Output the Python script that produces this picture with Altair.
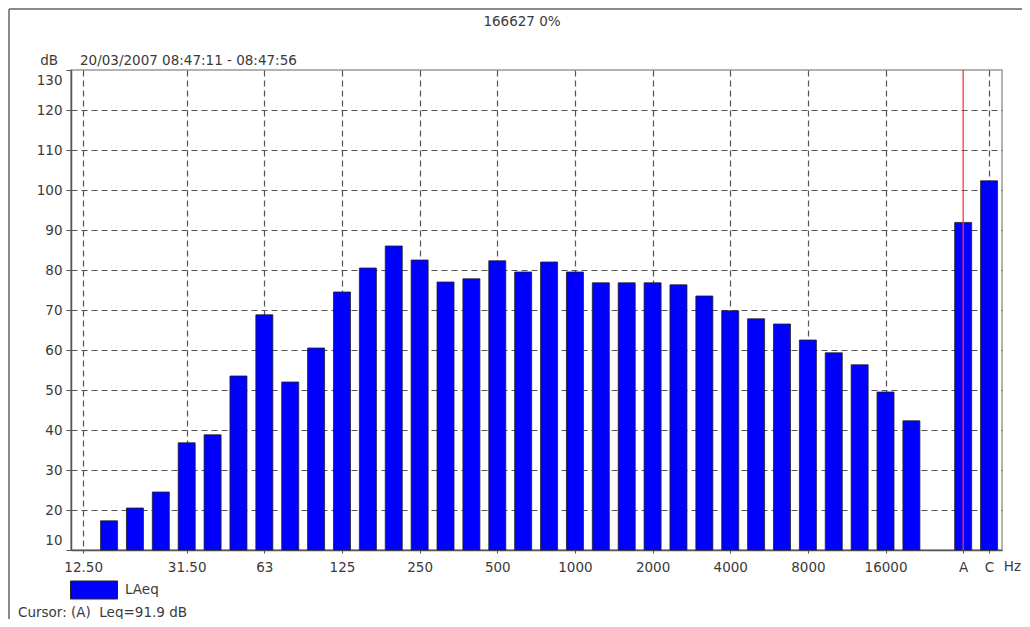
import altair as alt
import pandas as pd

# 1/3-octave bands (slot index 0 = 12.5 Hz, which has no bar), then A and C totals
bands = ["16", "20", "25", "31.5", "40", "50", "63", "80", "100", "125", "160", "200",
         "250", "315", "400", "500", "630", "800", "1000", "1250", "1600", "2000", "2500",
         "3150", "4000", "5000", "6300", "8000", "10000", "12500", "16000", "20000", "A", "C"]
levels = [17.3, 20.5, 24.5, 36.8, 38.8, 53.5, 68.8, 52.0, 60.5, 74.5, 80.5, 86.0,
          82.5, 77.0, 77.8, 82.3, 79.5, 82.0, 79.5, 76.8, 76.8, 76.8, 76.3,
          73.5, 69.8, 67.8, 66.5, 62.5, 59.3, 56.3, 49.5, 42.3, 91.9, 102.3]
slots = list(range(1, 33)) + [34, 35]

tick_slots = [0, 4, 7, 10, 13, 16, 19, 22, 25, 28, 31, 34, 35]
tick_labels = ["12.50", "31.50", "63", "125", "250", "500", "1000", "2000",
               "4000", "8000", "16000", "A", "C"]
y_ticks = list(range(10, 131, 10))

title_text = "166627 0%"
period_text = "20/03/2007 08:47:11 - 08:47:56"
cursor_text = "Cursor: (A)\u00a0 Leq=91.9 dB"
series_name = "LAeq"
cursor_slot = 34

FONT = "DejaVu Sans"
FS = 13.5
TXT = "#3a3a3a"

df = pd.DataFrame({"band": bands, "level": levels, "slot": slots, "series": series_name})

lab = [""] * 36
for s, t in zip(tick_slots, tick_labels):
    lab[s] = t
label_expr = "[" + ",".join("'" + s + "'" for s in lab) + "][datum.value]"

xscale = alt.Scale(domain=[-0.47, 35.5], nice=False, zero=False, padding=0)
yscale = alt.Scale(domain=[10, 130], nice=False, zero=False, padding=0)

bars = alt.Chart(df).mark_bar(size=17, stroke="#222222", strokeWidth=0.8).encode(
    x=alt.X("slot:Q", scale=xscale,
            axis=alt.Axis(values=tick_slots, labelExpr=label_expr, title=None,
                          grid=True, gridDash=[6, 4], gridColor="#555555", gridWidth=1.2,
                          gridOpacity=alt.condition(f"datum.value == {cursor_slot}",
                                                    alt.value(0), alt.value(1)),
                          tickSize=3, tickColor="#555555", labelPadding=7,
                          labelFont=FONT, labelFontSize=FS, labelColor=TXT,
                          domainColor="#555555", domainWidth=1.5, labelFlush=False)),
    y=alt.Y("level:Q", scale=yscale,
            axis=alt.Axis(values=y_ticks, title=None, grid=True, gridDash=[6, 4],
                          gridColor="#555555", gridWidth=1.2,
                          gridOpacity=alt.condition("datum.value == 130 || datum.value == 10",
                                                    alt.value(0), alt.value(1)),
                          tickSize=5, tickColor="#555555", labelPadding=4,
                          labelFlush=True, labelFlushOffset=-3,
                          labelFont=FONT, labelFontSize=FS, labelColor=TXT,
                          domainColor="#555555", domainWidth=1.5)),
    y2=alt.datum(10),
    color=alt.Color("series:N", scale=alt.Scale(range=["#0000FF"]),
                    legend=alt.Legend(title=None, orient="none", legendX=-1, legendY=496,
                                      symbolType="M-1,-0.383H1V0.383H-1Z", symbolSize=2209,
                                      symbolStrokeColor="#222222", symbolStrokeWidth=1,
                                      labelFont=FONT, labelFontSize=FS, labelColor=TXT,
                                      labelOffset=7, padding=0)),
)

one = pd.DataFrame({"a": [0]})

cursor_line = alt.Chart(one).mark_rule(color="#FF3535", strokeWidth=1.3).encode(
    x=alt.datum(cursor_slot), y=alt.value(0), y2=alt.value(480))

def text(s, x, y, align="left", baseline="middle"):
    return alt.Chart(one).mark_text(text=s, font=FONT, fontSize=FS, color=TXT,
                                    align=align, baseline=baseline).encode(
        x=alt.value(x), y=alt.value(y))

frame_top = alt.Chart(one).mark_rule(color="#8a8a8a", strokeWidth=2).encode(
    x=alt.value(-62), x2=alt.value(962), y=alt.value(-61))
frame_left = alt.Chart(one).mark_rule(color="#8a8a8a", strokeWidth=2).encode(
    x=alt.value(-62), y=alt.value(-61), y2=alt.value(560))

chart = alt.layer(
    bars,
    cursor_line,
    text(title_text, 451, -48, align="center"),
    text("dB", -13, -9, align="right"),
    text(period_text, 9, -9),
    text("Hz", 950, 497, align="right"),
    text(cursor_text, -53, 543),
    frame_top,
    frame_left,
).properties(
    width=931, height=480,
    autosize=alt.AutoSizeParams(type="none"),
    padding={"left": 63, "top": 62, "right": 20, "bottom": 69},
).configure_view(stroke="#999999", strokeWidth=1.5)

chart.save("out.html", embed_options={"renderer": "svg", "actions": False})
